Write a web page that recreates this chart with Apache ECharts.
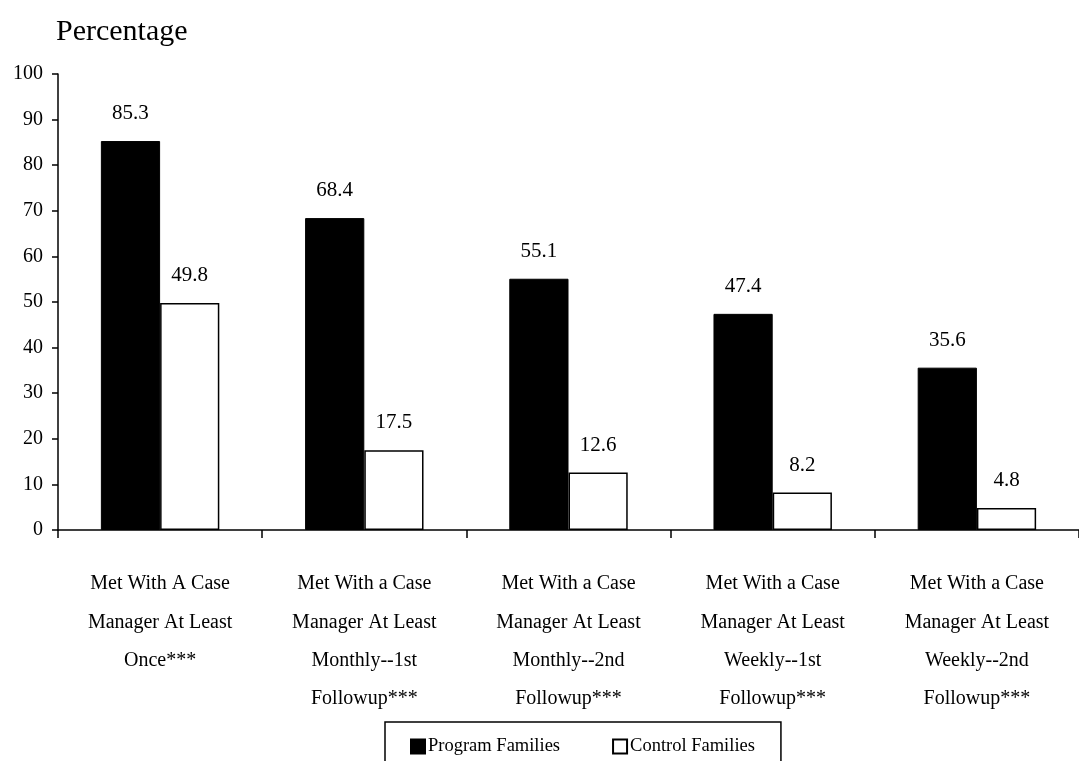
<!DOCTYPE html>
<html>
<head>
<meta charset="utf-8">
<script src="https://cdn.jsdelivr.net/npm/echarts@6/dist/echarts.min.js"></script>
<style>html,body{margin:0;padding:0;background:#fff;}#c{width:1079px;height:761px;}</style>
</head>
<body>
<div id="c"></div>
<script>
const categories = [
  "Met With A Case\nManager At Least\nOnce***",
  "Met With a Case\nManager At Least\nMonthly--1st\nFollowup***",
  "Met With a Case\nManager At Least\nMonthly--2nd\nFollowup***",
  "Met With a Case\nManager At Least\nWeekly--1st\nFollowup***",
  "Met With a Case\nManager At Least\nWeekly--2nd\nFollowup***"
];
const programFamilies = [85.3, 68.4, 55.1, 47.4, 35.6];
const controlFamilies = [49.8, 17.5, 12.6, 8.2, 4.8];
const seriesNames = ["Program Families", "Control Families"];
const yTicks = [0, 10, 20, 30, 40, 50, 60, 70, 80, 90, 100];

const FONT = '"Liberation Serif", "DejaVu Serif", serif';
const chart = echarts.init(document.getElementById('c'), null, {renderer: 'canvas'});
chart.setOption({
  backgroundColor: '#fff',
  animation: false,
  title: {
    text: 'Percentage',
    left: 51, top: 12,
    textStyle: {fontFamily: FONT, fontSize: 30, fontWeight: 'normal', color: '#000'}
  },
  legend: {
    data: seriesNames,
    left: 385, top: 722,
    orient: 'horizontal',
    icon: 'rect',
    itemWidth: 14, itemHeight: 14,
    itemGap: 52,
    padding: [15, 26, 30, 25],
    borderColor: '#000', borderWidth: 1.5,
    textStyle: {fontFamily: FONT, fontSize: 18.5, color: '#000', padding: [0, 0, 0, -2]}
  },
  grid: {left: 58, right: 0, top: 74, bottom: 231, containLabel: false},
  xAxis: {
    type: 'category',
    data: categories,
    axisLine: {lineStyle: {color: '#000', width: 1.5}},
    axisTick: {show: true, alignWithLabel: false, length: 8, lineStyle: {color: '#000', width: 1.5}},
    axisLabel: {
      interval: 0, margin: 35, color: '#000',
      fontFamily: FONT, fontSize: 20, lineHeight: 38.3, align: 'center'
    }
  },
  yAxis: {
    type: 'value',
    min: yTicks[0], max: yTicks[yTicks.length - 1], interval: 10,
    splitLine: {show: false},
    axisLine: {show: true, lineStyle: {color: '#000', width: 1.5}},
    axisTick: {show: true, length: 6, lineStyle: {color: '#000', width: 1.5}},
    axisLabel: {color: '#000', fontFamily: FONT, fontSize: 20, margin: 15}
  },
  series: [
    {
      name: seriesNames[0], type: 'bar', data: programFamilies,
      barGap: '0%', barCategoryGap: '42%',
      itemStyle: {color: '#000', borderColor: '#000', borderWidth: 1},
      label: {show: true, position: 'top', distance: 17, color: '#000', fontFamily: FONT, fontSize: 21}
    },
    {
      name: seriesNames[1], type: 'bar', data: controlFamilies,
      barGap: '0%', barCategoryGap: '42%',
      itemStyle: {color: '#fff', borderColor: '#000', borderWidth: 1.5},
      label: {show: true, position: 'top', distance: 17, color: '#000', fontFamily: FONT, fontSize: 21}
    }
  ]
});
</script>
</body>
</html>
